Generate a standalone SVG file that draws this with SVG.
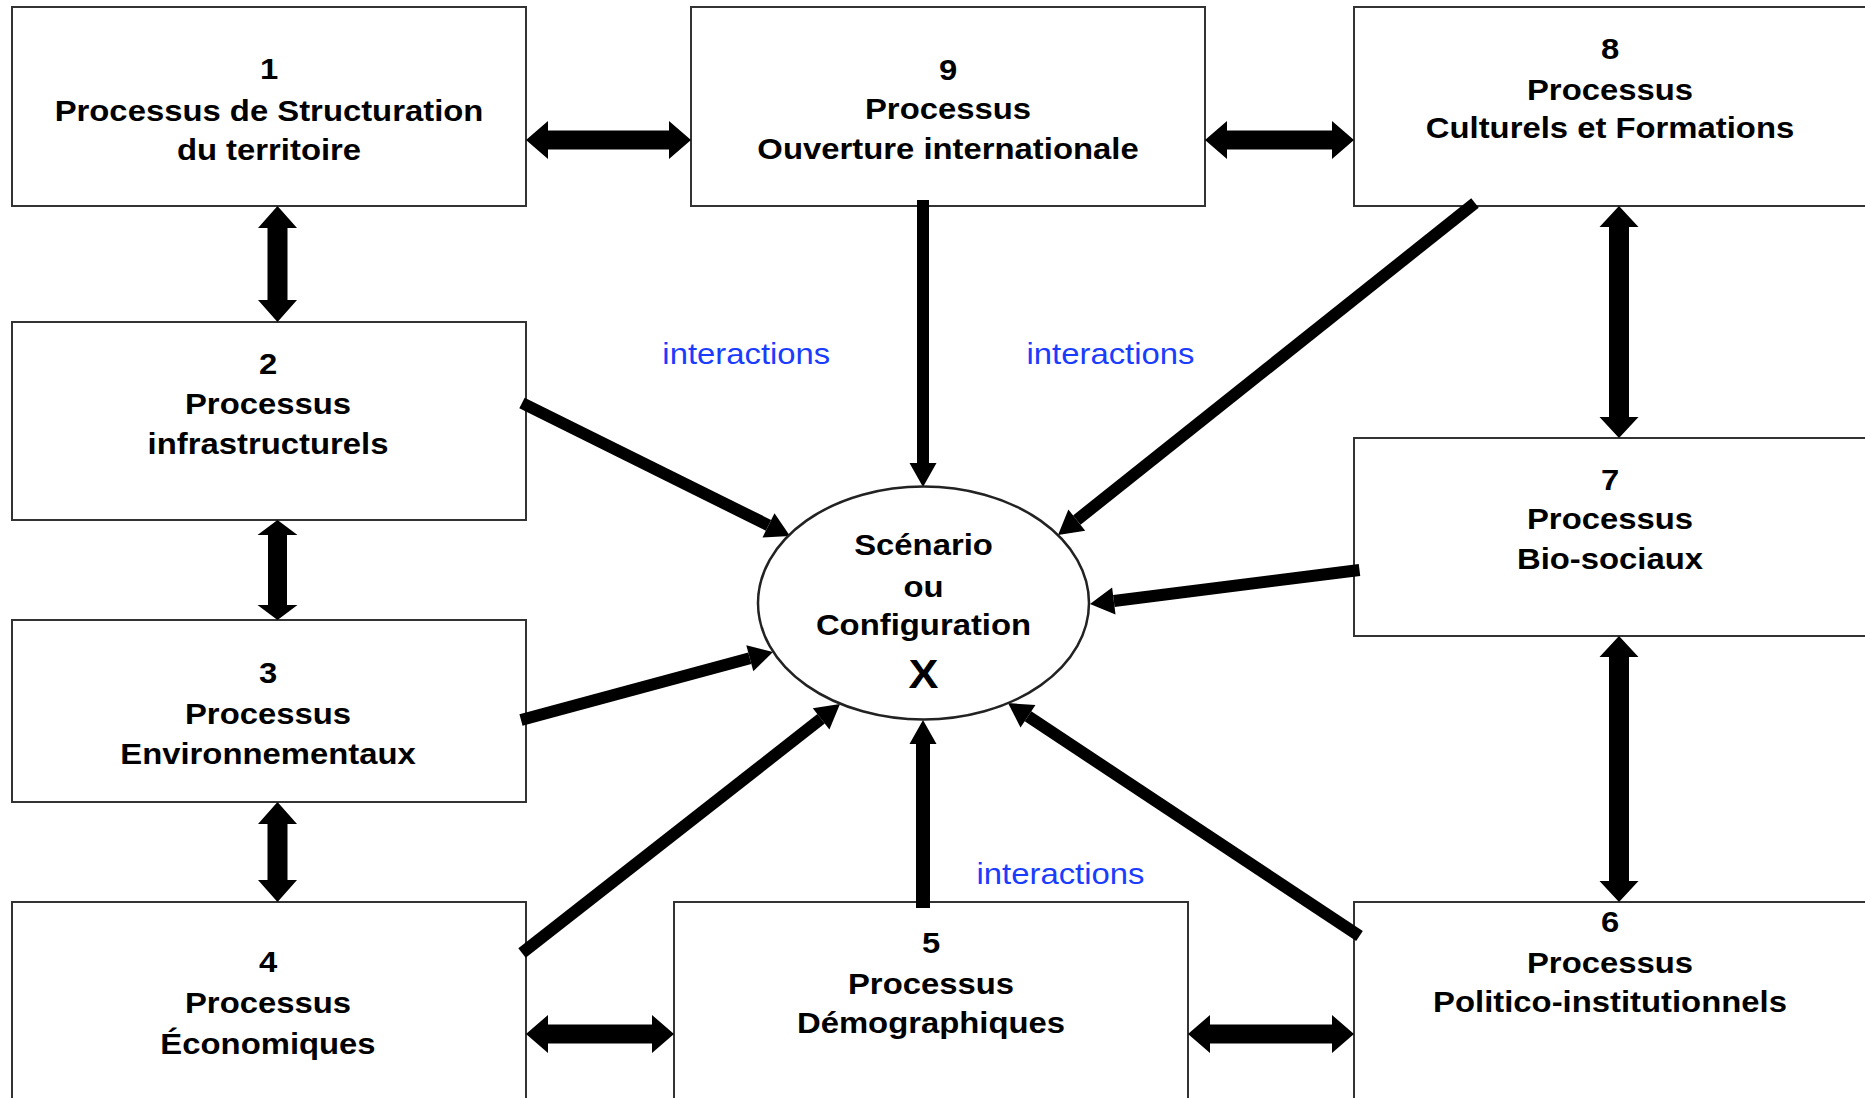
<svg xmlns="http://www.w3.org/2000/svg" width="1865" height="1098" viewBox="0 0 1865 1098">
<style>
.box{fill:#fff;stroke:#333;stroke-width:2}
.ell{fill:#fff;stroke:#222;stroke-width:2.5}
.t{font-family:"Liberation Sans",Arial,Helvetica,sans-serif;font-weight:bold;font-size:30px;fill:#000;text-anchor:middle}
.x{font-size:41px}
.lbl{font-family:"Liberation Sans",Arial,Helvetica,sans-serif;font-size:30px;fill:#1a3cff;text-anchor:middle}
.dbl{fill:#000;stroke:none}
.ln{stroke:#000;stroke-width:12;fill:none;marker-end:url(#ah)}
</style>
<defs>
<marker id="ah" markerUnits="userSpaceOnUse" markerWidth="24" markerHeight="27" refX="0" refY="13.5" orient="auto" overflow="visible">
<path d="M0,0 L24,13.5 L0,27 z" fill="#000"/>
</marker>
</defs>
<rect width="1865" height="1098" fill="#fff"/>

<g id="node1"><rect class="box" x="12" y="7" width="514" height="199"/>
<g transform="translate(269 0) scale(1.095 1)"><text class="t" x="0" y="79">1</text><text class="t" x="0" y="121">Processus de Structuration</text><text class="t" x="0" y="160">du territoire</text></g></g>

<g id="node9"><rect class="box" x="691" y="7" width="514" height="199"/>
<g transform="translate(948 0) scale(1.095 1)"><text class="t" x="0" y="80">9</text><text class="t" x="0" y="119">Processus</text><text class="t" x="0" y="159">Ouverture internationale</text></g></g>

<g id="node8"><rect class="box" x="1354" y="7" width="520" height="199"/>
<g transform="translate(1610 0) scale(1.095 1)"><text class="t" x="0" y="59">8</text><text class="t" x="0" y="100">Processus</text><text class="t" x="0" y="138">Culturels et Formations</text></g></g>

<g id="node2"><rect class="box" x="12" y="322" width="514" height="198"/>
<g transform="translate(268 0) scale(1.095 1)"><text class="t" x="0" y="374">2</text><text class="t" x="0" y="414">Processus</text><text class="t" x="0" y="454">infrastructurels</text></g></g>

<g id="node3"><rect class="box" x="12" y="620" width="514" height="182"/>
<g transform="translate(268 0) scale(1.095 1)"><text class="t" x="0" y="683">3</text><text class="t" x="0" y="724">Processus</text><text class="t" x="0" y="764">Environnementaux</text></g></g>

<g id="node7"><rect class="box" x="1354" y="438" width="520" height="198"/>
<g transform="translate(1610 0) scale(1.095 1)"><text class="t" x="0" y="490">7</text><text class="t" x="0" y="529">Processus</text><text class="t" x="0" y="569">Bio-sociaux</text></g></g>

<g id="node4"><rect class="box" x="12" y="902" width="514" height="200"/>
<g transform="translate(268 0) scale(1.095 1)"><text class="t" x="0" y="972">4</text><text class="t" x="0" y="1013">Processus</text><text class="t" x="0" y="1054">Économiques</text></g></g>

<g id="node5"><rect class="box" x="674" y="902" width="514" height="200"/>
<g transform="translate(931 0) scale(1.095 1)"><text class="t" x="0" y="953">5</text><text class="t" x="0" y="994">Processus</text><text class="t" x="0" y="1033">Démographiques</text></g></g>

<g id="node6"><rect class="box" x="1354" y="902" width="520" height="200"/>
<g transform="translate(1610 0) scale(1.095 1)"><text class="t" x="0" y="932">6</text><text class="t" x="0" y="973">Processus</text><text class="t" x="0" y="1012">Politico-institutionnels</text></g></g>

<g id="connectors">
<polygon class="dbl" points="526,140 548,121 548,130.5 669,130.5 669,121 691,140 669,159 669,149.5 548,149.5 548,159"/>
<polygon class="dbl" points="1205,140 1227,121 1227,130.5 1332,130.5 1332,121 1354,140 1332,159 1332,149.5 1227,149.5 1227,159"/>
<polygon class="dbl" points="526,1034 548,1015 548,1024.5 652,1024.5 652,1015 674,1034 652,1053 652,1043.5 548,1043.5 548,1053"/>
<polygon class="dbl" points="1188,1034 1210,1015 1210,1024.5 1332,1024.5 1332,1015 1354,1034 1332,1053 1332,1043.5 1210,1043.5 1210,1053"/>
<polygon class="dbl" points="277.5,206 297,228 287.5,228 287.5,300 297,300 277.5,322 258,300 267.5,300 267.5,228 258,228"/>
<polygon class="dbl" points="277.5,520 297.5,535 287,535 287,605 297.5,605 277.5,620 257.5,605 268,605 268,535 257.5,535"/>
<polygon class="dbl" points="277.5,802 297,824 287.5,824 287.5,880 297,880 277.5,902 258,880 267.5,880 267.5,824 258,824"/>
<polygon class="dbl" points="1619,206 1638.5,227 1629,227 1629,417 1638.5,417 1619,438 1599.5,417 1609,417 1609,227 1599.5,227"/>
<polygon class="dbl" points="1619,636 1638.5,657 1629,657 1629,881 1638.5,881 1619,902 1599.5,881 1609,881 1609,657 1599.5,657"/>
<line class="ln" x1="522" y1="403" x2="768.5" y2="525.3"/>
<line class="ln" x1="521" y1="720" x2="749.8" y2="658.3"/>
<line class="ln" x1="522" y1="953" x2="821.1" y2="718.8"/>
<line class="ln" x1="923" y1="908" x2="923" y2="744" style="stroke-width:14"/>
<line class="ln" x1="1359.5" y1="936" x2="1028" y2="716.3"/>
<line class="ln" x1="1359.5" y1="570" x2="1113.8" y2="601"/>
<line class="ln" x1="1475" y1="203" x2="1076.8" y2="520.1"/>
<line class="ln" x1="923" y1="200" x2="923" y2="463"/>
</g>

<g id="center">
<ellipse class="ell" cx="923.5" cy="603" rx="165.5" ry="116.5"/>
<g transform="translate(923.5 0) scale(1.095 1)"><text class="t" x="0" y="555">Scénario</text><text class="t" x="0" y="597">ou</text><text class="t" x="0" y="635">Configuration</text><text class="t x" x="0" y="688">X</text></g>
</g>

<g id="labels">
<g transform="translate(746.3 0) scale(1.095 1)"><text class="lbl" x="0" y="364">interactions</text></g>
<g transform="translate(1110.5 0) scale(1.095 1)"><text class="lbl" x="0" y="364">interactions</text></g>
<g transform="translate(1060.5 0) scale(1.095 1)"><text class="lbl" x="0" y="884">interactions</text></g>
</g>
</svg>
